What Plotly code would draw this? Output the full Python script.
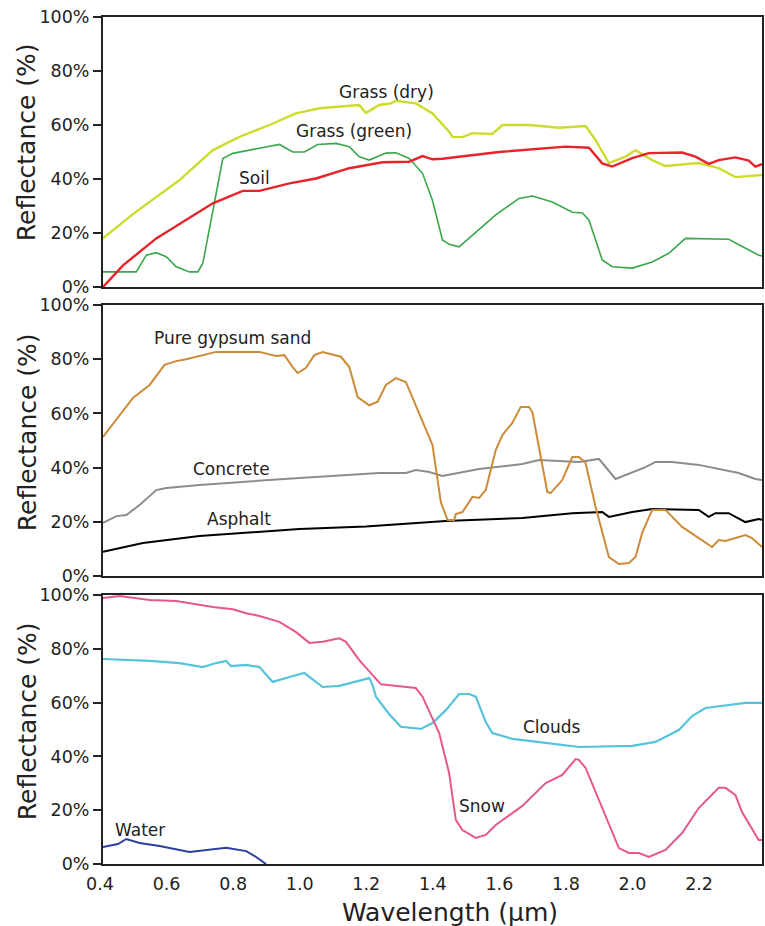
import plotly.graph_objects as go

# ---------------- data ----------------
grass_dry_x = [0.40, 0.49, 0.63, 0.68, 0.73, 0.81, 0.90, 0.98, 1.05, 1.17, 1.19, 1.23, 1.265, 1.28, 1.34, 1.39, 1.44, 1.45, 1.48, 1.51, 1.57, 1.60, 1.68, 1.77, 1.83, 1.85, 1.88, 1.92, 1.97, 2.00, 2.05, 2.09, 2.19, 2.25, 2.30, 2.38]
grass_dry_y = [18, 27, 39.6, 45, 50.7, 55.6, 60, 64.3, 66.2, 67.4, 64.5, 67.4, 68, 69, 68, 64.3, 57.5, 55.6, 55.5, 57, 56.7, 60, 60, 59, 59.3, 59.6, 54.4, 45.9, 48.3, 50.7, 47, 44.8, 45.9, 44, 40.7, 41.5]

soil_x = [0.40, 0.46, 0.56, 0.65, 0.73, 0.82, 0.87, 0.96, 1.04, 1.14, 1.24, 1.32, 1.36, 1.39, 1.42, 1.59, 1.79, 1.86, 1.90, 1.93, 1.99, 2.04, 2.14, 2.18, 2.22, 2.25, 2.30, 2.34, 2.36, 2.38]
soil_y = [0, 8, 18, 24.8, 31, 35.6, 35.6, 38.4, 40.2, 44, 46.2, 46.4, 48.5, 47.3, 47.5, 50, 52, 51.6, 45.8, 44.6, 47.7, 49.6, 49.8, 48.3, 45.6, 47, 48, 46.8, 44.6, 45.5]

grass_green_x = [0.40, 0.50, 0.53, 0.56, 0.59, 0.62, 0.66, 0.685, 0.70, 0.73, 0.76, 0.79, 0.93, 0.97, 1.005, 1.045, 1.10, 1.14, 1.17, 1.20, 1.25, 1.28, 1.32, 1.36, 1.39, 1.42, 1.44, 1.47, 1.58, 1.65, 1.69, 1.75, 1.81, 1.84, 1.86, 1.90, 1.93, 1.99, 2.05, 2.10, 2.15, 2.28, 2.37, 2.38]
grass_green_y = [5.6, 5.6, 11.8, 12.7, 11.2, 7.5, 5.6, 5.6, 8.8, 28.5, 47.6, 49.5, 52.8, 50, 50, 52.8, 53.2, 52, 48.2, 47, 49.6, 49.7, 47.6, 42.1, 32, 17.4, 15.8, 14.9, 26.7, 32.8, 33.7, 31.5, 27.7, 27.4, 24.8, 10, 7.5, 7, 9.3, 12.5, 18, 17.7, 11.8, 11.5]

gypsum_x = [0.40, 0.49, 0.54, 0.585, 0.62, 0.65, 0.74, 0.87, 0.92, 0.945, 0.97, 0.985, 1.01, 1.035, 1.06, 1.115, 1.14, 1.165, 1.20, 1.225, 1.25, 1.28, 1.31, 1.38, 1.39, 1.415, 1.435, 1.455, 1.46, 1.48, 1.51, 1.53, 1.55, 1.58, 1.60, 1.63, 1.655, 1.68, 1.69, 1.735, 1.745, 1.78, 1.81, 1.83, 1.85, 1.88, 1.92, 1.95, 1.98, 2.00, 2.02, 2.05, 2.09, 2.14, 2.23, 2.25, 2.27, 2.33, 2.35, 2.38]
gypsum_y = [51.3, 65.7, 70.5, 77.9, 79.3, 80, 82.7, 82.7, 81.2, 81.5, 77.1, 74.9, 76.8, 81.5, 82.6, 80.9, 77.1, 66, 63, 64.3, 70.5, 73, 71.6, 51.3, 48.3, 27.3, 20.7, 20.7, 22.9, 23.6, 29.2, 28.8, 31.7, 46.5, 52, 56.5, 62.4, 62.4, 60.5, 31, 30.6, 35.4, 43.9, 43.9, 41.7, 25.5, 7, 4.4, 4.8, 7, 15.9, 24.4, 24.4, 18.1, 10.7, 13.3, 12.9, 15.1, 14, 10.7]

concrete_x = [0.40, 0.44, 0.47, 0.51, 0.56, 0.59, 0.69, 0.99, 1.23, 1.31, 1.34, 1.38, 1.42, 1.53, 1.66, 1.71, 1.83, 1.89, 1.94, 1.99, 2.03, 2.06, 2.11, 2.19, 2.31, 2.36, 2.38]
concrete_y = [19.6, 22.1, 22.5, 26.2, 31.7, 32.5, 33.6, 36.2, 38, 38, 39.1, 38.4, 36.9, 39.5, 41.3, 42.8, 42.1, 43.2, 35.8, 38.4, 40.2, 42.1, 42.1, 41, 38, 35.8, 35.4]

asphalt_x = [0.40, 0.52, 0.69, 0.99, 1.19, 1.43, 1.66, 1.81, 1.90, 1.92, 1.99, 2.05, 2.19, 2.20, 2.22, 2.24, 2.28, 2.33, 2.37, 2.38]
asphalt_y = [8.9, 12.2, 14.8, 17.3, 18.3, 20.3, 21.4, 23.2, 23.6, 21.8, 23.6, 24.7, 24.4, 23.6, 21.8, 23.2, 23.2, 19.9, 21, 20.7]

snow_x = [0.40, 0.45, 0.54, 0.62, 0.73, 0.79, 0.83, 0.87, 0.93, 0.98, 1.02, 1.06, 1.11, 1.13, 1.17, 1.235, 1.34, 1.36, 1.41, 1.44, 1.46, 1.48, 1.52, 1.55, 1.58, 1.66, 1.73, 1.78, 1.82, 1.83, 1.85, 1.95, 1.98, 2.01, 2.04, 2.09, 2.14, 2.19, 2.25, 2.27, 2.30, 2.32, 2.37, 2.38]
snow_y = [98.9, 99.6, 98.1, 97.8, 95.5, 94.7, 93.2, 92.2, 90, 86.2, 82.2, 82.6, 83.9, 82.6, 75.8, 66.8, 65.4, 62.2, 48.7, 33.8, 16.4, 12.6, 9.7, 10.8, 14.5, 21.6, 30.1, 33.1, 39, 38.7, 35.7, 5.9, 4.1, 4.1, 2.6, 5.2, 11.5, 20.8, 28.3, 28.3, 25.7, 19.3, 8.9, 8.9]

clouds_x = [0.40, 0.54, 0.63, 0.70, 0.74, 0.77, 0.785, 0.83, 0.87, 0.91, 0.96, 1.005, 1.06, 1.11, 1.20, 1.21, 1.22, 1.26, 1.295, 1.355, 1.39, 1.43, 1.47, 1.50, 1.52, 1.55, 1.57, 1.63, 1.73, 1.83, 1.99, 2.06, 2.13, 2.17, 2.21, 2.33, 2.38]
clouds_y = [76.2, 75.5, 74.7, 73.2, 74.7, 75.5, 73.6, 74, 73.2, 67.7, 69.5, 71, 65.8, 66.2, 69.1, 66.5, 62.2, 55.7, 51, 50.2, 52.4, 57.2, 63.2, 63.2, 62.2, 52.8, 48.7, 46.5, 45, 43.5, 43.9, 45.4, 49.8, 55, 58, 59.9, 59.9]

water_x = [0.40, 0.445, 0.47, 0.51, 0.57, 0.66, 0.77, 0.83, 0.86, 0.89]
water_y = [6.3, 7.4, 9.3, 7.8, 6.7, 4.5, 6.0, 4.8, 2.6, 0.0]

x_ticks = [0.4, 0.6, 0.8, 1.0, 1.2, 1.4, 1.6, 1.8, 2.0, 2.2]
y_ticks = [0, 20, 40, 60, 80, 100]
y_tick_text = ["0%", "20%", "40%", "60%", "80%", "100%"]

# ---------------- figure ----------------
FONT = "DejaVu Sans"
TXT = "#222222"
W, H = 765, 926
ML, MR, MT, MB = 103, 1, 17, 62
PH = H - MT - MB

def py2paper(py):
    return (H - MB - py) / PH

def px2paper(px):
    return (px - ML) / (W - ML - MR)

fig = go.Figure()

def add(x, y, color, width, axis):
    fig.add_trace(go.Scatter(x=x, y=y, mode="lines",
                             line=dict(color=color, width=width),
                             xaxis="x" + axis, yaxis="y" + axis,
                             showlegend=False, hoverinfo="skip"))

add(grass_green_x, grass_green_y, "#3aa84a", 1.6, "")
add(grass_dry_x, grass_dry_y, "#cddc2c", 2.4, "")
add(soil_x, soil_y, "#e8232a", 2.4, "")

add(concrete_x, concrete_y, "#8c8c8c", 2.0, "2")
add(asphalt_x, asphalt_y, "#000000", 2.0, "2")
add(gypsum_x, gypsum_y, "#cd8a38", 2.0, "2")

add(clouds_x, clouds_y, "#55c3d9", 2.2, "3")
add(snow_x, snow_y, "#e8578a", 2.0, "3")
add(water_x, water_y, "#2b3f9e", 2.0, "3")

doms = [
    (py2paper(287), py2paper(17)),
    (py2paper(576), py2paper(305)),
    (py2paper(864), py2paper(595)),
]

common_x = dict(range=[0.4, 2.38], showgrid=False, zeroline=False,
                showline=True, linecolor=TXT, linewidth=2, mirror=True,
                ticks="", tickmode="array", tickvals=x_ticks,
                ticktext=[f"{v:.1f}" for v in x_ticks],
                ticklabelshift=-3, ticklabelstandoff=3,
                tickfont=dict(family=FONT, size=17.5, color=TXT))
common_y = dict(range=[0, 100], showgrid=False, zeroline=False,
                showline=True, linecolor=TXT, linewidth=2, mirror=True,
                ticks="outside", ticklen=8, tickwidth=1.5, tickcolor=TXT,
                tickmode="array", tickvals=y_ticks, ticktext=y_tick_text,
                tickfont=dict(family=FONT, size=17.5, color=TXT))

layout = dict(
    width=W, height=H,
    margin=dict(l=ML, r=MR, t=MT, b=MB),
    paper_bgcolor="white", plot_bgcolor="white",
    font=dict(family=FONT, color=TXT),
    xaxis=dict(common_x, anchor="y", showticklabels=False),
    yaxis=dict(common_y, domain=list(doms[0]), anchor="x"),
    xaxis2=dict(common_x, anchor="y2", matches="x", showticklabels=False),
    yaxis2=dict(common_y, domain=list(doms[1]), anchor="x2"),
    xaxis3=dict(common_x, anchor="y3", matches="x", showticklabels=True),
    yaxis3=dict(common_y, domain=list(doms[2]), anchor="x3"),
)
fig.update_layout(**layout)

ann = []
def lab(text, x, y, axis):
    ann.append(dict(text=text, x=x, y=y, xref="x" + axis, yref="y" + axis,
                    showarrow=False, font=dict(family=FONT, size=17, color=TXT),
                    xanchor="center", yanchor="middle"))

lab("Grass (dry)", 1.253, 72.2, "")
lab("Grass (green)", 1.154, 57.8, "")
lab("Soil", 0.855, 40.4, "")
lab("Pure gypsum sand", 0.789, 87.8, "2")
lab("Concrete", 0.786, 39.5, "2")
lab("Asphalt", 0.81, 21.0, "2")
lab("Water", 0.51, 12.6, "3")
lab("Clouds", 1.75, 50.9, "3")
lab("Snow", 1.54, 21.6, "3")

for cy in (142, 432, 721):
    ann.append(dict(text="Reflectance (%)", x=px2paper(27), y=py2paper(cy),
                    xref="paper", yref="paper", textangle=-90, showarrow=False,
                    font=dict(family=FONT, size=25, color=TXT),
                    xanchor="center", yanchor="middle"))

ann.append(dict(text="Wavelength (µm)", x=px2paper(451), y=py2paper(912),
                xref="paper", yref="paper", showarrow=False,
                font=dict(family=FONT, size=25, color=TXT),
                xanchor="center", yanchor="middle"))

fig.update_layout(annotations=ann)
fig.write_html("out.html", config={"displayModeBar": False},
               post_script="document.body.style.margin='0';document.body.style.padding='0';document.body.style.overflow='hidden';document.documentElement.style.overflow='hidden';")
